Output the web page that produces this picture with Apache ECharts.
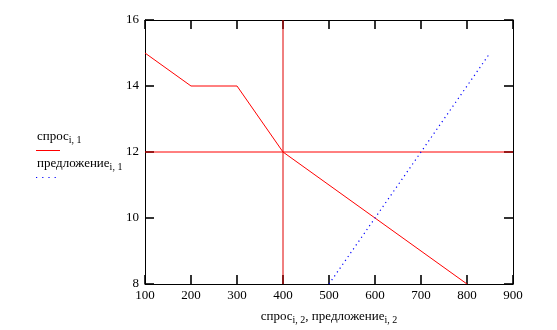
<!DOCTYPE html>
<html><head><meta charset="utf-8">
<script src="https://cdn.jsdelivr.net/npm/echarts@6/dist/echarts.min.js"></script>
<style>html,body{margin:0;padding:0;background:#fff}#c{width:557px;height:330px}</style>
</head><body><div id="c"></div>
<script>
var demandX = [100, 200, 300, 400, 500, 600, 700, 800];
var demandY = [15, 14, 14, 12, 11, 10, 9, 8];
var supplyX = [500, 600, 700, 850];
var supplyY = [8, 10, 12, 15];
var priceX = [100, 900];
var priceY = [12, 12];
var qtyX = [400, 400];
var qtyY = [8, 16];
var xTicks = [100, 200, 300, 400, 500, 600, 700, 800, 900];
var yTicks = [8, 10, 12, 14, 16];

function pairs(xs, ys){ return xs.map(function(x,i){return [x, ys[i]];}); }
var FONT = '"Liberation Serif","Times New Roman",serif';
var sub = {fontSize: 10, fontFamily: FONT, color:'#000', padding:[7,0,0,0]};
var main = {fontSize: 13, fontFamily: FONT, color:'#000'};

var chart = echarts.init(document.getElementById('c'));
function tick(){ return {show:true, inside:true, length:9, lineStyle:{color:'#000', width:1.6}}; }
function line(){ return {show:true, lineStyle:{color:'#000', width:1}}; }
chart.setOption({
  animation:false,
  grid:{left:145, top:20, right:44, bottom:46},
  xAxis:[{
    type:'value', min:xTicks[0], max:xTicks[xTicks.length-1], interval:100,
    axisLine:line(), axisTick:tick(), splitLine:{show:false},
    axisLabel:{fontFamily:FONT, fontSize:13, color:'#000', margin:5},
    name:'{m|спрос}{s|i, 2}{m|, предложение}{s|i, 2}', nameLocation:'middle', nameGap:24,
    nameTextStyle:{rich:{m:main, s:sub}}
  },{
    type:'value', min:xTicks[0], max:xTicks[xTicks.length-1], interval:100, position:'top',
    axisLine:line(), axisTick:tick(), axisLabel:{show:false}, splitLine:{show:false}
  }],
  yAxis:[{
    type:'value', min:yTicks[0], max:yTicks[yTicks.length-1], interval:2,
    axisLine:line(), axisTick:tick(), splitLine:{show:false},
    axisLabel:{fontFamily:FONT, fontSize:13, color:'#000', margin:6}
  },{
    type:'value', min:yTicks[0], max:yTicks[yTicks.length-1], interval:2, position:'right',
    axisLine:line(), axisTick:tick(), splitLine:{show:false}, axisLabel:{show:false}
  }],
  series:[
    {type:'line', data:pairs(qtyX, qtyY), symbol:'none', lineStyle:{color:'#e00000', width:1}, z:3},
    {type:'line', xAxisIndex:1, yAxisIndex:1, data:pairs(priceX, priceY), symbol:'none', lineStyle:{color:'#ff0000', width:1}, z:3},
    {type:'line', data:pairs(demandX, demandY), symbol:'none', lineStyle:{color:'#ff0000', width:1}, z:4},
    {type:'line', data:pairs(supplyX, supplyY), symbol:'none', lineStyle:{color:'#0000ff', width:1.2, type:[1.2,3.5]}, z:4}
  ],
  graphic:[
    {type:'text', left:37, top:130, style:{text:'{m|спрос}{s|i, 1}', rich:{m:main, s:sub}}},
    {type:'line', shape:{x1:36, y1:150.5, x2:60, y2:150.5}, style:{stroke:'#ff0000', lineWidth:1}},
    {type:'text', left:37, top:157, style:{text:'{m|предложение}{s|i, 1}', rich:{m:main, s:sub}}},
    {type:'line', shape:{x1:36, y1:177.5, x2:57, y2:177.5}, style:{stroke:'#0000ff', lineWidth:1.2, lineDash:[1.2,5]}}
  ]
});
</script></body></html>
